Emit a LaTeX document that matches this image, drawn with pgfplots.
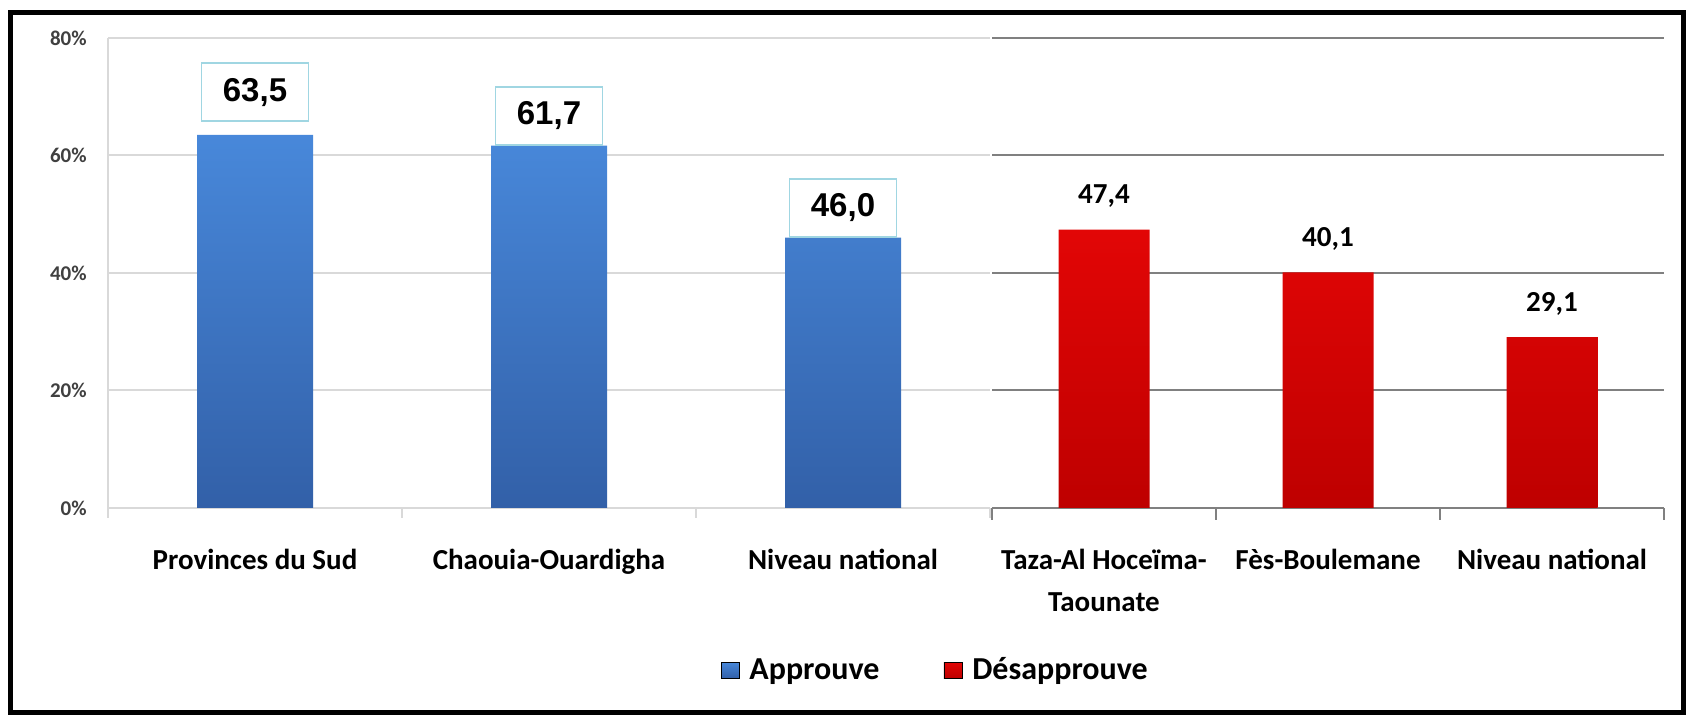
\documentclass[border=0pt]{standalone}
\usepackage{pgfplots}
\pgfplotsset{compat=1.18}
\usepackage{fontspec}
\setmainfont{Carlito}
\newfontfamily\arialfont{Liberation Sans}
\definecolor{blueTop}{RGB}{72,136,218}
\definecolor{blueBot}{RGB}{50,96,168}
\definecolor{redTop}{RGB}{226,6,6}
\definecolor{redBot}{RGB}{190,0,0}
\definecolor{boxc}{RGB}{160,214,226}
\definecolor{gridL}{RGB}{217,217,217}
\definecolor{gridR}{RGB}{128,128,128}
\definecolor{tickc}{RGB}{64,64,64}
\tikzset{labelbox/.style={font=\arialfont\bfseries\fontsize{16.5}{18}\selectfont, draw=boxc, line width=0.8pt, fill=white, minimum width=53.5pt, minimum height=29pt, anchor=south, inner sep=0pt, text=black}}

\begin{document}
\begin{tikzpicture}
\useasboundingbox (0,0) rectangle (843pt,357.5pt);
% ---------- left panel: Approuve ----------
\begin{axis}[
  scale only axis, width=441pt, height=235pt,
  at={(54pt,103.5pt)}, anchor=south west,
  xmin=-0.5, xmax=2.5, ymin=0, ymax=80,
  axis x line*=bottom, axis y line*=left,
  axis line style={gridL, line width=1pt},
  ytick={0,20,40,60,80},
  yticklabels={0\%,20\%,40\%,60\%,80\%},
  yticklabel style={font=\bfseries\fontsize{10.5}{12}\selectfont, text=tickc, anchor=east, inner sep=0pt, xshift=-10.5pt},
  ymajorgrids, grid style={gridL, line width=1pt},
  xtick={0,1,2},
  xticklabels={Provinces du Sud, Chaouia-Ouardigha, Niveau national},
  xticklabel style={font=\bfseries\fontsize{14.5}{21}\selectfont, text=black, anchor=north, inner sep=0pt, yshift=-20.5pt},
  major tick length=0pt,
  minor xtick={-0.5,0.5,1.5,2.5},
  minor tick length=5pt,
  tick align=outside,
  minor tick style={gridL, line width=1pt},
]
\addplot[ybar, bar width=58pt, bar shift=0pt, draw=none, top color=blueTop, bottom color=blueBot, forget plot]
  coordinates {(0,63.5) (1,61.7) (2,46.0)};
\addplot[draw=none, mark=none, forget plot,
  nodes near coords={\pgfmathprintnumber[fixed,fixed zerofill,precision=1,use comma,assume math mode=true]{\pgfplotspointmeta}},
  nodes near coords style={labelbox, yshift=6.5pt}]
  coordinates {(0,63.5)};
\addplot[draw=none, mark=none, forget plot,
  nodes near coords={\pgfmathprintnumber[fixed,fixed zerofill,precision=1,use comma,assume math mode=true]{\pgfplotspointmeta}},
  nodes near coords style={labelbox}]
  coordinates {(1,61.7) (2,46.0)};
\end{axis}
% ---------- right panel: Désapprouve ----------
\begin{axis}[
  scale only axis, width=336pt, height=235pt,
  at={(496pt,103.5pt)}, anchor=south west,
  xmin=-0.5, xmax=2.5, ymin=0, ymax=80,
  axis x line*=bottom, axis y line*=left,
  y axis line style={draw=none},
  x axis line style={gridR, line width=1pt},
  ytick={0,20,40,60,80}, yticklabels={},
  ymajorgrids, grid style={gridR, line width=1pt},
  xtick={0,1,2},
  xticklabels={{Taza-Al Hoceïma-\\Taounate}, Fès-Boulemane, Niveau national},
  xticklabel style={font=\bfseries\fontsize{14.5}{21}\selectfont, text=black, align=center, anchor=north, inner sep=0pt, yshift=-20.5pt},
  major tick length=0pt,
  minor xtick={-0.5,0.5,1.5,2.5},
  minor tick length=6pt,
  tick align=outside,
  minor tick style={gridR, line width=1pt},
  legend style={at={(-0.083,-0.345)}, anchor=center, draw=none, fill=none,
    legend columns=2, font=\bfseries\fontsize{16}{19}\selectfont,
    /tikz/every odd column/.append style={column sep=3pt},
    /tikz/every even column/.append style={column sep=30pt}},
]
\addlegendimage{legend image code/.code={\fill[top color=blueTop, bottom color=blueBot] (0pt,-4pt) rectangle (9pt,4pt);}}
\addlegendentry{Approuve}
\addlegendimage{legend image code/.code={\fill[top color=redTop, bottom color=redBot] (0pt,-4pt) rectangle (9pt,4pt);}}
\addlegendentry{Désapprouve}
\addplot[ybar, bar width=45.5pt, bar shift=0pt, draw=none, top color=redTop, bottom color=redBot, forget plot]
  coordinates {(0,47.4) (1,40.1) (2,29.1)};
\addplot[draw=none, mark=none, forget plot,
  nodes near coords={\pgfmathprintnumber[fixed,fixed zerofill,precision=1,use comma,assume math mode=true]{\pgfplotspointmeta}},
  nodes near coords style={font=\bfseries\fontsize{14.5}{16}\selectfont, anchor=base, inner sep=0pt, yshift=13pt, text=black}]
  coordinates {(0,47.4) (1,40.1) (2,29.1)};
\end{axis}
% ---------- outer frame ----------
\draw[line width=2.5pt] (5.25pt,1pt) rectangle (841.75pt,351.25pt);
\end{tikzpicture}
\end{document}
